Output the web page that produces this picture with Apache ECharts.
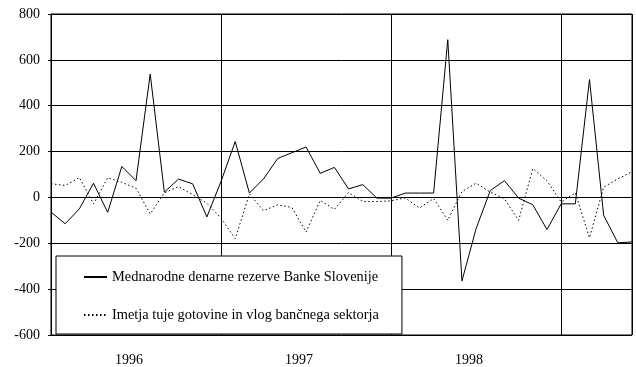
<!DOCTYPE html>
<html>
<head>
<meta charset="utf-8">
<script src="https://cdn.jsdelivr.net/npm/echarts@6/dist/echarts.min.js"></script>
<style>
  html, body { margin: 0; padding: 0; background: #fff; }
  #chart { width: 636px; height: 367px; }
</style>
</head>
<body>
<div id="chart"></div>
<script>
// Monthly flows, January 1996 – June 1999 (index 0 = Jan 1996)
const months = [
  '1996-01','1996-02','1996-03','1996-04','1996-05','1996-06','1996-07','1996-08','1996-09','1996-10','1996-11','1996-12',
  '1997-01','1997-02','1997-03','1997-04','1997-05','1997-06','1997-07','1997-08','1997-09','1997-10','1997-11','1997-12',
  '1998-01','1998-02','1998-03','1998-04','1998-05','1998-06','1998-07','1998-08','1998-09','1998-10','1998-11','1998-12',
  '1999-01','1999-02','1999-03','1999-04','1999-05','1999-06'
];

const reserveName = 'Mednarodne denarne rezerve Banke Slovenije';
const reserves = [
  -64, -115, -50, 62, -65, 135, 73, 538, 23, 80, 59, -85,
  70, 244, 19, 81, 170, 195, 220, 105, 131, 37, 56, -3,
  -3, 19, 19, 19, 688, -364, -136, 30, 73, -3, -32, -140,
  -28, -28, 514, -78, -198, -194
];

const bankName = 'Imetja tuje gotovine in vlog bančnega sektorja';
const bankHoldings = [
  60, 52, 87, -28, 86, 66, 40, -72, 20, 47, 12, -25,
  -90, -180, 15, -58, -32, -44, -151, -13, -52, 22, -18, -18,
  -15, -2, -46, -5, -100, 26, 62, 23, -6, -100, 126, 73,
  -20, 20, -176, 45, 81, 112
];

// Year labels sit in the middle of each year's span of months
const yearLabels = ['1996', '1997', '1998'];
const yearCenters = [5.5, 17.5, 29.5];

const yTicks = { min: -600, max: 800, step: 200 };

const font = 'Liberation Serif, Times New Roman, serif';

const toPairs = arr => arr.map((v, i) => [i, v]);

const chart = echarts.init(document.getElementById('chart'), null, { renderer: 'canvas' });

chart.setOption({
  animation: false,
  backgroundColor: '#fff',
  grid: { left: 51, right: 4, top: 14, bottom: 30, show: true, borderColor: '#000', borderWidth: 1 },
  xAxis: [
    {
      type: 'value',
      min: 0,
      max: months.length - 1,
      interval: 12,
      axisLine: { show: true, lineStyle: { color: '#000', width: 1 } },
      axisTick: { show: false },
      axisLabel: { show: false },
      splitLine: { show: true, lineStyle: { color: '#000', width: 1 } }
    },
    {
      type: 'value',
      min: 0,
      max: months.length - 1,
      position: 'bottom',
      axisLine: { show: false },
      axisTick: { show: false },
      splitLine: { show: false },
      axisLabel: {
        show: true,
        customValues: yearCenters,
        formatter: v => yearLabels[yearCenters.indexOf(v)] || '',
        margin: 18,
        color: '#000',
        fontFamily: font,
        fontSize: 14
      }
    }
  ],
  yAxis: {
    type: 'value',
    min: yTicks.min,
    max: yTicks.max,
    interval: yTicks.step,
    axisLine: { show: true, lineStyle: { color: '#000', width: 1 } },
    axisTick: { show: true, length: 3, lineStyle: { color: '#000' } },
    axisLabel: { color: '#000', fontFamily: font, fontSize: 14, margin: 11 },
    splitLine: { show: true, lineStyle: { color: '#000', width: 1 } }
  },
  legend: {
    orient: 'vertical',
    left: 56,
    top: 256,
    padding: [14, 23, 12, 27],
    itemGap: 24,
    itemWidth: 23,
    itemHeight: 14,
    backgroundColor: '#fff',
    borderColor: '#000',
    borderWidth: 1,
    itemStyle: { opacity: 0 },
    textStyle: { color: '#000', fontFamily: font, fontSize: 14.4 },
    data: [reserveName, bankName]
  },
  series: [
    {
      name: reserveName,
      type: 'line',
      xAxisIndex: 0,
      data: toPairs(reserves),
      symbol: 'none',
      lineStyle: { color: '#000', width: 1, type: 'solid' },
      itemStyle: { color: '#000' },
      z: 3
    },
    {
      name: bankName,
      type: 'line',
      xAxisIndex: 0,
      data: toPairs(bankHoldings),
      symbol: 'none',
      lineStyle: { color: '#000', width: 1, type: [1.5, 2.5] },
      itemStyle: { color: '#000' },
      z: 2
    }
  ]
});
</script>
</body>
</html>
